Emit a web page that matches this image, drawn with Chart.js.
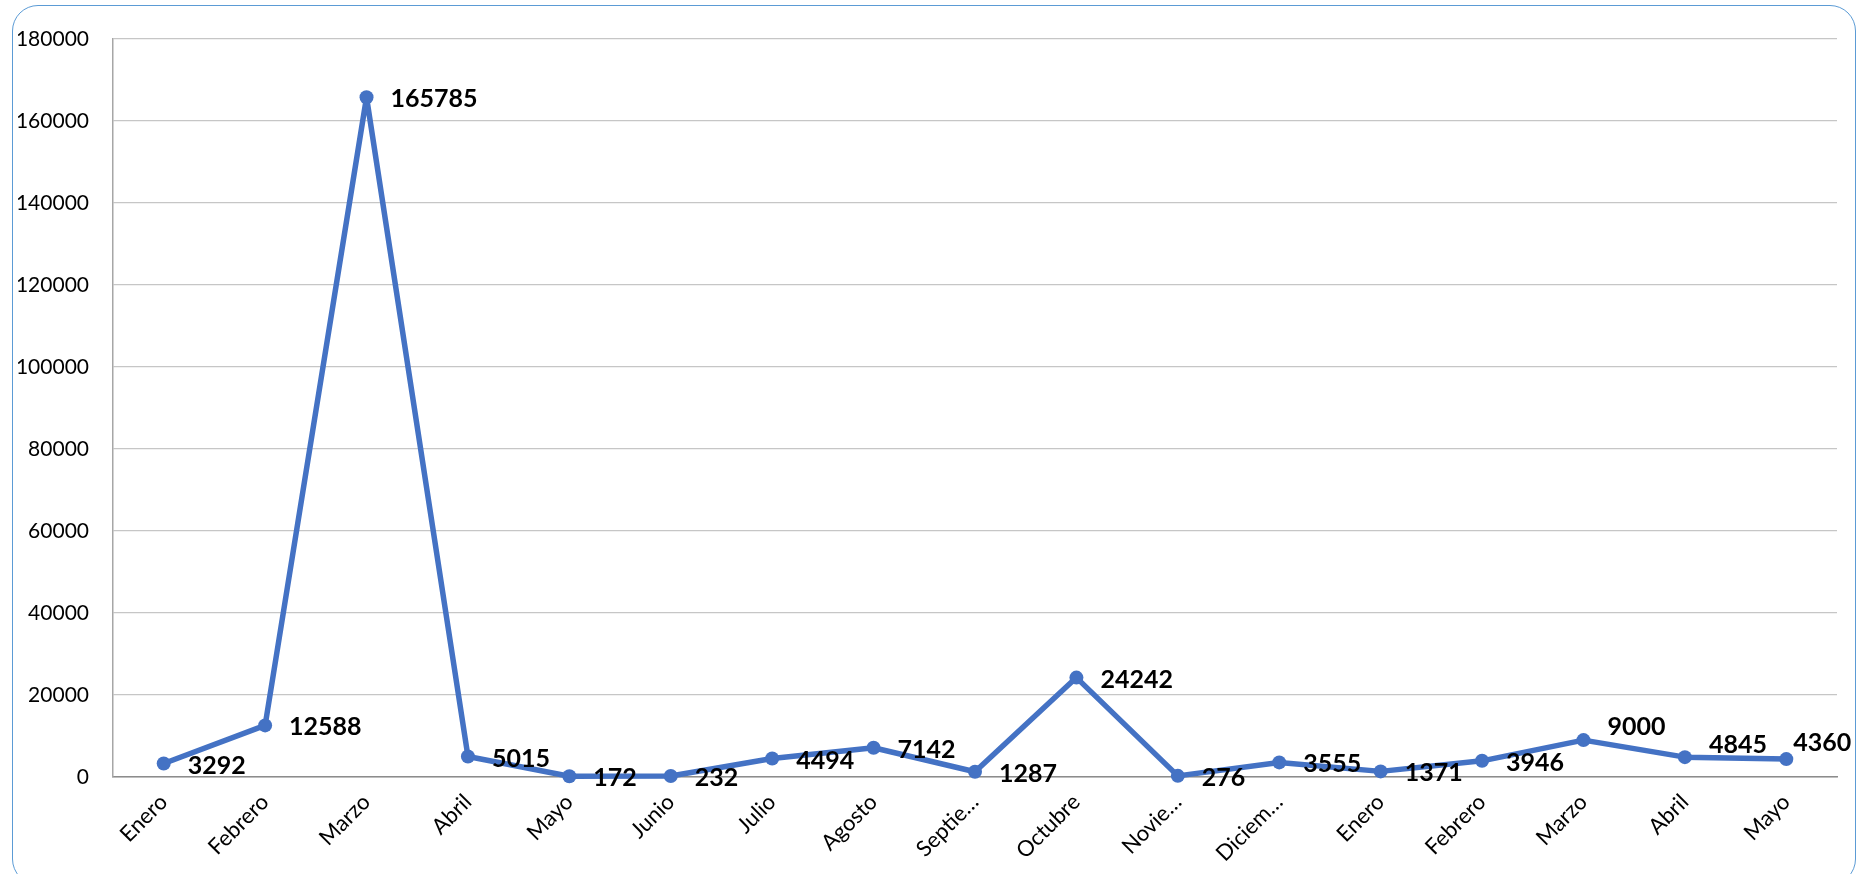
<!DOCTYPE html>
<html>
<head>
<meta charset="utf-8">
<script src="https://cdn.jsdelivr.net/npm/chart.js@4/dist/chart.umd.min.js"></script>
<style>
  html, body { margin: 0; padding: 0; background: #fff; }
  #wrap { position: relative; width: 1867px; height: 874px; }
  #frame {
    position: absolute; left: 12px; top: 5px; width: 1844px; height: 880px;
    border: 1.5px solid #5B9BD5; border-radius: 26px; box-sizing: border-box;
    pointer-events: none;
  }
</style>
</head>
<body>
<div id="wrap">
  <canvas id="myChart" width="1867" height="874"></canvas>
  <div id="frame"></div>
</div>
<script>
// Categorías (meses) y valores
const meses = ['Enero', 'Febrero', 'Marzo', 'Abril', 'Mayo', 'Junio', 'Julio', 'Agosto', 'Septie…',
  'Octubre', 'Novie…', 'Diciem…', 'Enero', 'Febrero', 'Marzo', 'Abril', 'Mayo'];
const valores = [3292, 12588, 165785, 5015, 172, 232, 4494, 7142, 1287,
  24242, 276, 3555, 1371, 3946, 9000, 4845, 4360];
const ejeYMin = 0;
const ejeYMax = 180000;
const ejeYPaso = 20000;

const fuente = 'Lato, "Open Sans", sans-serif';

// etiquetas de datos a la derecha del punto (las últimas, algo más arriba)
const etiquetasPlugin = {
  id: 'etiquetas',
  afterDatasetsDraw(chart) {
    const ctx = chart.ctx;
    const meta = chart.getDatasetMeta(0);
    const ajustes = { 14: [24, -13], 15: [24, -12], 16: [7, -16] };
    ctx.save();
    ctx.font = 'bold 25px ' + fuente;
    ctx.fillStyle = '#000';
    ctx.textAlign = 'left';
    ctx.textBaseline = 'middle';
    meta.data.forEach((p, i) => {
      const a = ajustes[i] || [24, 2];
      ctx.fillText(String(chart.data.datasets[0].data[i]), p.x + a[0], p.y + a[1]);
    });
    ctx.restore();
  }
};

const ctx = document.getElementById('myChart').getContext('2d');
const myChart = new Chart(ctx, {
  type: 'line',
  data: {
    labels: meses,
    datasets: [{
      data: valores,
      borderColor: '#4472C4',
      backgroundColor: '#4472C4',
      borderWidth: 5.5,
      borderJoinStyle: 'round',
      pointRadius: 7,
      pointHoverRadius: 7,
      pointBackgroundColor: '#4472C4',
      pointBorderWidth: 0,
      clip: false,
      tension: 0
    }]
  },
  options: {
    responsive: false,
    animation: false,
    layout: { padding: { left: 18, top: 39, right: 30, bottom: 0 } },
    plugins: { legend: { display: false }, tooltip: { enabled: false } },
    scales: {
      x: {
        offset: true,
        grid: { display: false, drawTicks: false },
        border: { color: '#8C8C8C', width: 1.5 },
        ticks: {
          color: '#000',
          font: { family: fuente, size: 22 },
          minRotation: 45,
          maxRotation: 45,
          padding: 12,
          autoSkip: false
        },
        afterFit(scale) { scale.height = 97; }
      },
      y: {
        min: ejeYMin,
        max: ejeYMax,
        grid: { color: '#C6C6C6', lineWidth: 1.2, drawTicks: false },
        border: { color: '#A6A6A6', width: 1.5 },
        ticks: {
          stepSize: ejeYPaso,
          color: '#000',
          font: { family: fuente, size: 21 },
          padding: 24,
          callback: (v) => String(v)
        },
        afterFit(scale) { scale.width = 95; }
      }
    }
  },
  plugins: [etiquetasPlugin]
});
</script>
</body>
</html>
